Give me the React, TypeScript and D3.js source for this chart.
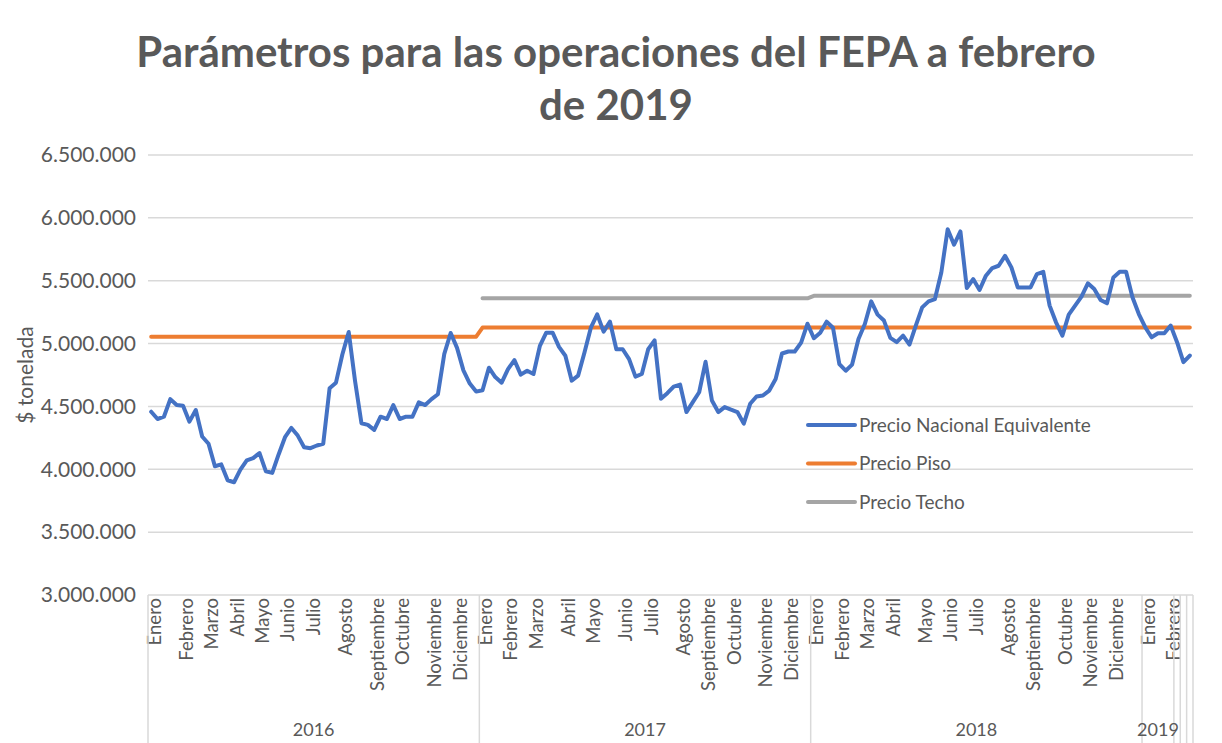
import React, { useRef, useEffect } from "react";
import * as d3 from "d3";

const WIDTH = 1222;
const HEIGHT = 743;

// Precio Nacional Equivalente, semanal ($/tonelada), ene-2016 a feb-2019
const precioNacional = [
  4458000, 4400000, 4418000, 4558000, 4511000, 4505000, 4379000, 4471000, 4261000, 4203000,
  4024000, 4039000, 3913000, 3897000, 3997000, 4071000, 4089000, 4129000, 3984000, 3971000,
  4118000, 4255000, 4329000, 4268000, 4176000, 4168000, 4189000, 4203000, 4645000, 4689000,
  4913000, 5092000, 4700000, 4366000, 4353000, 4313000, 4418000, 4400000, 4511000, 4400000,
  4418000, 4418000, 4532000, 4511000, 4558000, 4597000, 4918000, 5084000, 4966000, 4787000,
  4682000, 4618000, 4629000, 4808000, 4734000, 4689000, 4797000, 4868000, 4753000, 4784000,
  4758000, 4982000, 5087000, 5087000, 4974000, 4903000, 4705000, 4745000, 4929000, 5126000,
  5232000, 5095000, 5174000, 4955000, 4955000, 4876000, 4737000, 4758000, 4955000, 5026000,
  4561000, 4605000, 4658000, 4674000, 4455000, 4534000, 4613000, 4855000, 4547000, 4455000,
  4495000, 4474000, 4455000, 4363000, 4521000, 4579000, 4587000, 4626000, 4718000, 4921000,
  4937000, 4937000, 5008000, 5158000, 5042000, 5087000, 5174000, 5126000, 4837000, 4784000,
  4833000, 5037000, 5156000, 5336000, 5230000, 5183000, 5045000, 5011000, 5063000, 4992000,
  5143000, 5288000, 5336000, 5354000, 5566000, 5910000, 5786000, 5892000, 5442000, 5513000,
  5426000, 5540000, 5601000, 5619000, 5698000, 5606000, 5447000, 5447000, 5447000, 5553000,
  5571000, 5302000, 5169000, 5063000, 5230000, 5302000, 5373000, 5479000, 5434000, 5347000,
  5320000, 5526000, 5571000, 5571000, 5368000, 5235000, 5130000, 5050000, 5082000, 5082000,
  5143000, 5011000, 4852000, 4905000,
];

// Precio Piso y Techo: tramos constantes (semana inicial, semana final, valor)
const tramosPiso = [
  { desde: 0, hasta: 51, valor: 5055000 },
  { desde: 52, hasta: 163, valor: 5127000 },
];
const tramosTecho = [
  { desde: 52, hasta: 103, valor: 5360000 },
  { desde: 104, hasta: 163, valor: 5380000 },
];

// Etiquetas de mes y la semana en que aparecen
const etiquetasMes = [
  "Enero", "Febrero", "Marzo", "Abril", "Mayo", "Junio", "Julio", "Agosto", "Septiembre", "Octubre", "Noviembre", "Diciembre",
  "Enero", "Febrero", "Marzo", "Abril", "Mayo", "Junio", "Julio", "Agosto", "Septiembre", "Octubre", "Noviembre", "Diciembre",
  "Enero", "Febrero", "Marzo", "Abril", "Mayo", "Junio", "Julio", "Agosto", "Septiembre", "Octubre", "Noviembre", "Diciembre",
  "Enero", "Febrero",
];
const semanaMes = [
  0, 5, 9, 13, 17, 21, 25, 30, 35, 39, 44, 48,
  52, 56, 60, 65, 69, 74, 78, 83, 87, 91, 96, 100,
  104, 108, 112, 116, 121, 125, 129, 134, 138, 143, 147, 151,
  156, 160,
];

const anios = ["2016", "2017", "2018", "2019", "", "", ""];
const semanasPorAnio = [52, 52, 52, 5, 1, 1, 1];

const ticksY = [3000000, 3500000, 4000000, 4500000, 5000000, 5500000, 6000000, 6500000];

const series = [
  { nombre: "Precio Nacional Equivalente", color: "#4472C4" },
  { nombre: "Precio Piso", color: "#ED7D31" },
  { nombre: "Precio Techo", color: "#A5A5A5" },
];

const expandir = (tramos: { desde: number; hasta: number; valor: number }[]) =>
  precioNacional.map((_, i) => {
    const t = tramos.find((r) => i >= r.desde && i <= r.hasta);
    return t ? t.valor : null;
  });

export default function App() {
  const svgRef = useRef<SVGSVGElement>(null);

  useEffect(() => {
    if (!svgRef.current) return;
    const svg = d3.select(svgRef.current);
    svg.selectAll("*").remove();

    const font = "Lato, 'Open Sans', sans-serif";
    const textColor = "#595959";
    const gridColor = "#d9d9d9";

    const left = 148;
    const right = 1193;
    const top = 155;
    const bottom = 595;

    const n = precioNacional.length;
    const x = d3.scaleBand<number>().domain(d3.range(n)).range([left, right]);
    const cx = (i: number) => (x(i) as number) + x.bandwidth() / 2;
    const y = d3.scaleLinear().domain([3000000, 6500000]).range([bottom, top]);

    const fmt = d3.formatLocale({
      decimal: ",",
      thousands: ".",
      grouping: [3],
      currency: ["$", ""],
    }).format(",.0f");

    svg.append("rect").attr("width", WIDTH).attr("height", HEIGHT).attr("fill", "#fff");

    // Título
    const title = svg
      .append("text")
      .attr("text-anchor", "middle")
      .attr("font-family", font)
      .attr("font-weight", "bold")
      .attr("font-size", 42)
      .attr("fill", textColor);
    title.append("tspan").attr("x", 616).attr("y", 67).text("Parámetros para las operaciones del FEPA a febrero");
    title.append("tspan").attr("x", 616).attr("y", 120).text("de 2019");

    // Rejilla y eje Y
    svg
      .append("g")
      .selectAll("line")
      .data(ticksY)
      .enter()
      .append("line")
      .attr("x1", left)
      .attr("x2", right)
      .attr("y1", (d) => y(d))
      .attr("y2", (d) => y(d))
      .attr("stroke", gridColor)
      .attr("stroke-width", 1.5);

    svg
      .append("g")
      .selectAll("text")
      .data(ticksY)
      .enter()
      .append("text")
      .attr("x", 136)
      .attr("y", (d) => y(d))
      .attr("dy", "0.35em")
      .attr("text-anchor", "end")
      .attr("font-family", font)
      .attr("font-size", 21)
      .attr("fill", textColor)
      .text((d) => fmt(d));

    svg
      .append("text")
      .attr("transform", `translate(26,${(top + bottom) / 2}) rotate(-90)`)
      .attr("text-anchor", "middle")
      .attr("dy", "0.35em")
      .attr("font-family", font)
      .attr("font-size", 21)
      .attr("fill", textColor)
      .text("$ tonelada");

    // Eje X: meses
    svg
      .append("g")
      .selectAll("text")
      .data(etiquetasMes)
      .enter()
      .append("text")
      .attr("transform", (_, i) => `translate(${cx(semanaMes[i]) + 3},598) rotate(-90)`)
      .attr("text-anchor", "end")
      .attr("dy", "0.35em")
      .attr("font-family", font)
      .attr("font-size", 18.5)
      .attr("fill", textColor)
      .text((d) => d);

    // Eje X: años y divisiones
    const inicios = semanasPorAnio.map((_, i) => d3.sum(semanasPorAnio.slice(0, i)));
    const divisiones = [...inicios, n];
    svg
      .append("g")
      .selectAll("line")
      .data(divisiones)
      .enter()
      .append("line")
      .attr("x1", (d) => (d < n ? (x(d) as number) : right))
      .attr("x2", (d) => (d < n ? (x(d) as number) : right))
      .attr("y1", bottom)
      .attr("y2", HEIGHT)
      .attr("stroke", gridColor)
      .attr("stroke-width", 1.5);

    svg
      .append("g")
      .selectAll("text")
      .data(anios)
      .enter()
      .append("text")
      .attr("x", (_, i) => (x(inicios[i]) as number) + (semanasPorAnio[i] * x.step()) / 2)
      .attr("y", 730)
      .attr("dy", "0.35em")
      .attr("text-anchor", "middle")
      .attr("font-family", font)
      .attr("font-size", 18)
      .attr("fill", textColor)
      .text((d) => d);

    // Líneas
    const line = d3
      .line<number | null>()
      .defined((d) => d !== null)
      .x((_, i) => cx(i))
      .y((d) => y(d as number));

    const valores = [precioNacional, expandir(tramosPiso), expandir(tramosTecho)];
    [2, 1, 0].forEach((k) => {
      svg
        .append("path")
        .datum(valores[k])
        .attr("fill", "none")
        .attr("stroke", series[k].color)
        .attr("stroke-width", 4)
        .attr("stroke-linejoin", "round")
        .attr("stroke-linecap", "round")
        .attr("d", line);
    });

    // Leyenda
    const legend = svg
      .append("g")
      .selectAll("g")
      .data(series)
      .enter()
      .append("g")
      .attr("transform", (_, i) => `translate(808,${425 + i * 38.5})`);
    legend
      .append("line")
      .attr("x1", 0)
      .attr("x2", 47)
      .attr("stroke", (d) => d.color)
      .attr("stroke-width", 4)
      .attr("stroke-linecap", "round");
    legend
      .append("text")
      .attr("x", 51)
      .attr("dy", "0.35em")
      .attr("font-family", font)
      .attr("font-size", 19)
      .attr("fill", textColor)
      .text((d) => d.nombre);
  }, []);

  return (
    <svg
      ref={svgRef}
      width={WIDTH}
      height={HEIGHT}
      style={{ position: "absolute", left: 0, top: 0, display: "block" }}
    />
  );
}
